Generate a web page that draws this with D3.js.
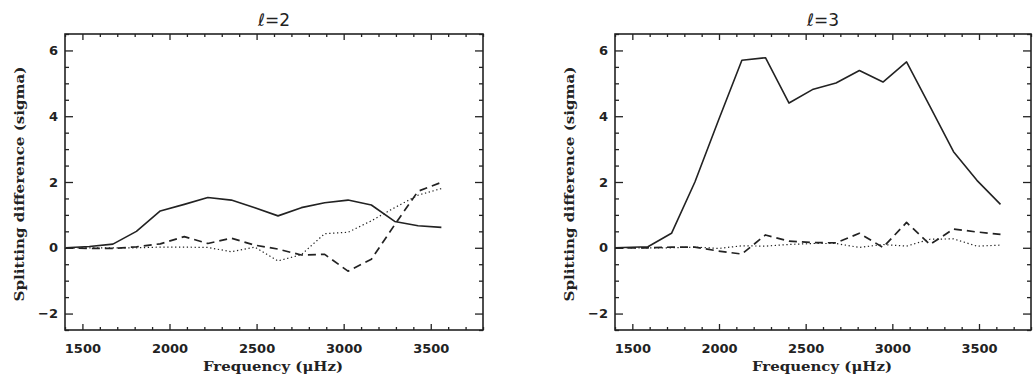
<!DOCTYPE html>
<html>
<head>
<meta charset="utf-8">
<script src="https://cdn.jsdelivr.net/npm/d3@7"></script>
<style>
  html, body { margin: 0; padding: 0; background: #fff; }
  svg { display: block; }
</style>
</head>
<body>
<svg id="chart" width="1036" height="384"></svg>
<script>
// ---------- data ----------
const panelTitles = ["2", "3"];
const xTickLabels = [1500, 2000, 2500, 3000, 3500];
const yTickLabels = [-2, 0, 2, 4, 6];

// l = 2 panel
const freqL   = [1405, 1540, 1675, 1810, 1947, 2085, 2220, 2355, 2490, 2623, 2757, 2891, 3025, 3159, 3293, 3427, 3561];
const solidL  = [0, 0.04, 0.11, 0.50, 1.12, 1.32, 1.53, 1.45, 1.22, 0.97, 1.22, 1.37, 1.45, 1.30, 0.80, 0.67, 0.62];
const dashedL = [0, -0.02, -0.02, 0.03, 0.12, 0.34, 0.13, 0.29, 0.08, -0.04, -0.22, -0.20, -0.71, -0.35, 0.70, 1.72, 1.99];
const dottedL = [0, 0, 0, 0, 0.02, 0.02, 0.01, -0.12, 0.02, -0.40, -0.21, 0.43, 0.47, 0.82, 1.22, 1.60, 1.80];

// l = 3 panel
const freqR   = [1400, 1590, 1726, 1861, 1997, 2132, 2268, 2404, 2539, 2675, 2810, 2946, 3082, 3217, 3353, 3488, 3624];
const solidR  = [0, 0.03, 0.44, 2.00, 3.88, 5.70, 5.78, 4.40, 4.81, 5.01, 5.39, 5.04, 5.65, 4.30, 2.92, 2.05, 1.32];
const dashedR = [0, 0, 0.02, 0.02, -0.10, -0.19, 0.39, 0.20, 0.16, 0.15, 0.44, 0.01, 0.77, 0.10, 0.57, 0.48, 0.41];
const dottedR = [0, 0, 0, 0.02, -0.02, 0.06, 0.05, 0.10, 0.13, 0.13, 0.01, 0.10, 0.05, 0.26, 0.27, 0.05, 0.08];

const xDomain = [1400, 3800];
const yDomain = [-2.5, 6.5];

// ---------- drawing ----------
const svg = d3.select("#chart");
const ink = "#222";
const plotTop = 34, plotBottom = 330;

const panels = [
  { left: 65,  right: 483,  title: panelTitles[0], freq: freqL, solid: solidL, dashed: dashedL, dotted: dottedL },
  { left: 615, right: 1031, title: panelTitles[1], freq: freqR, solid: solidR, dashed: dashedR, dotted: dottedR }
];

panels.forEach(p => {
  const x = d3.scaleLinear().domain(xDomain).range([p.left, p.right]);
  const y = d3.scaleLinear().domain(yDomain).range([plotBottom, plotTop]);
  const g = svg.append("g");

  const xMinor = d3.range(1400, 3801, 100).filter(v => v % 500 !== 0);
  const yMinor = d3.range(-2.5, 6.51, 0.5).filter(v => Math.abs(v % 2) > 1e-6);

  // Axes (ticks inward, mirrored on all sides)
  g.append("g").attr("transform", `translate(0,${plotBottom})`)
    .call(d3.axisBottom(x).tickValues(xTickLabels).tickSize(-6).tickFormat(d3.format("d")).tickPadding(14));
  g.append("g").attr("transform", `translate(0,${plotBottom})`)
    .call(d3.axisBottom(x).tickValues(xMinor).tickSize(-3).tickFormat(""));
  g.append("g").attr("transform", `translate(0,${plotTop})`)
    .call(d3.axisTop(x).tickValues(xTickLabels).tickSize(-6).tickFormat(""));
  g.append("g").attr("transform", `translate(0,${plotTop})`)
    .call(d3.axisTop(x).tickValues(xMinor).tickSize(-3).tickFormat(""));
  g.append("g").attr("transform", `translate(${p.left},0)`)
    .call(d3.axisLeft(y).tickValues(yTickLabels).tickSize(-8).tickFormat(d => d < 0 ? "\u2212" + Math.abs(d) : d).tickPadding(7));
  g.append("g").attr("transform", `translate(${p.left},0)`)
    .call(d3.axisLeft(y).tickValues(yMinor).tickSize(-4).tickFormat(""));
  g.append("g").attr("transform", `translate(${p.right},0)`)
    .call(d3.axisRight(y).tickValues(yTickLabels).tickSize(-8).tickFormat(""));
  g.append("g").attr("transform", `translate(${p.right},0)`)
    .call(d3.axisRight(y).tickValues(yMinor).tickSize(-4).tickFormat(""));

  g.selectAll(".domain").remove();
  g.selectAll(".tick line").attr("stroke", ink).attr("stroke-width", 1.3);
  g.selectAll(".tick text")
    .attr("fill", ink)
    .attr("font-family", "DejaVu Sans, sans-serif")
    .attr("font-weight", "bold")
    .attr("font-size", 13);

  // frame
  g.append("rect")
    .attr("x", p.left).attr("y", plotTop)
    .attr("width", p.right - p.left).attr("height", plotBottom - plotTop)
    .attr("fill", "none").attr("stroke", ink).attr("stroke-width", 1.6);

  // lines
  const line = d3.line().x(d => x(d[0])).y(d => y(d[1]));
  const series = [
    { vals: p.dotted, dash: "1.3,2.6", w: 1.2 },
    { vals: p.dashed, dash: "8,5", w: 1.7 },
    { vals: p.solid,  dash: null, w: 1.6 }
  ];
  series.forEach(s => {
    g.append("path")
      .datum(p.freq.map((f, i) => [f, s.vals[i]]))
      .attr("d", line)
      .attr("fill", "none")
      .attr("stroke", ink)
      .attr("stroke-width", s.w)
      .attr("stroke-linejoin", "round")
      .attr("stroke-dasharray", s.dash);
  });

  const cx = (p.left + p.right) / 2;

  // title
  const t = g.append("text")
    .attr("x", cx).attr("y", 26)
    .attr("text-anchor", "middle")
    .attr("font-family", "DejaVu Sans, sans-serif")
    .attr("font-size", 17)
    .attr("fill", ink);
  t.append("tspan").attr("font-style", "italic").text("\u2113");
  t.append("tspan").text("=" + p.title);

  // x label
  g.append("text")
    .attr("x", cx - 1).attr("y", 371)
    .attr("text-anchor", "middle")
    .attr("font-family", "DejaVu Serif, serif")
    .attr("font-weight", "bold")
    .attr("font-size", 13)
    .attr("fill", ink)
    .attr("textLength", 140)
    .attr("lengthAdjust", "spacingAndGlyphs")
    .text("Frequency (\u03BCHz)");

  // y label
  g.append("text")
    .attr("transform", `translate(${p.left - 41},184) rotate(-90)`)
    .attr("text-anchor", "middle")
    .attr("font-family", "DejaVu Serif, serif")
    .attr("font-weight", "bold")
    .attr("font-size", 13)
    .attr("fill", ink)
    .attr("textLength", 235)
    .attr("lengthAdjust", "spacingAndGlyphs")
    .text("Splitting difference (sigma)");
});
</script>
</body>
</html>
